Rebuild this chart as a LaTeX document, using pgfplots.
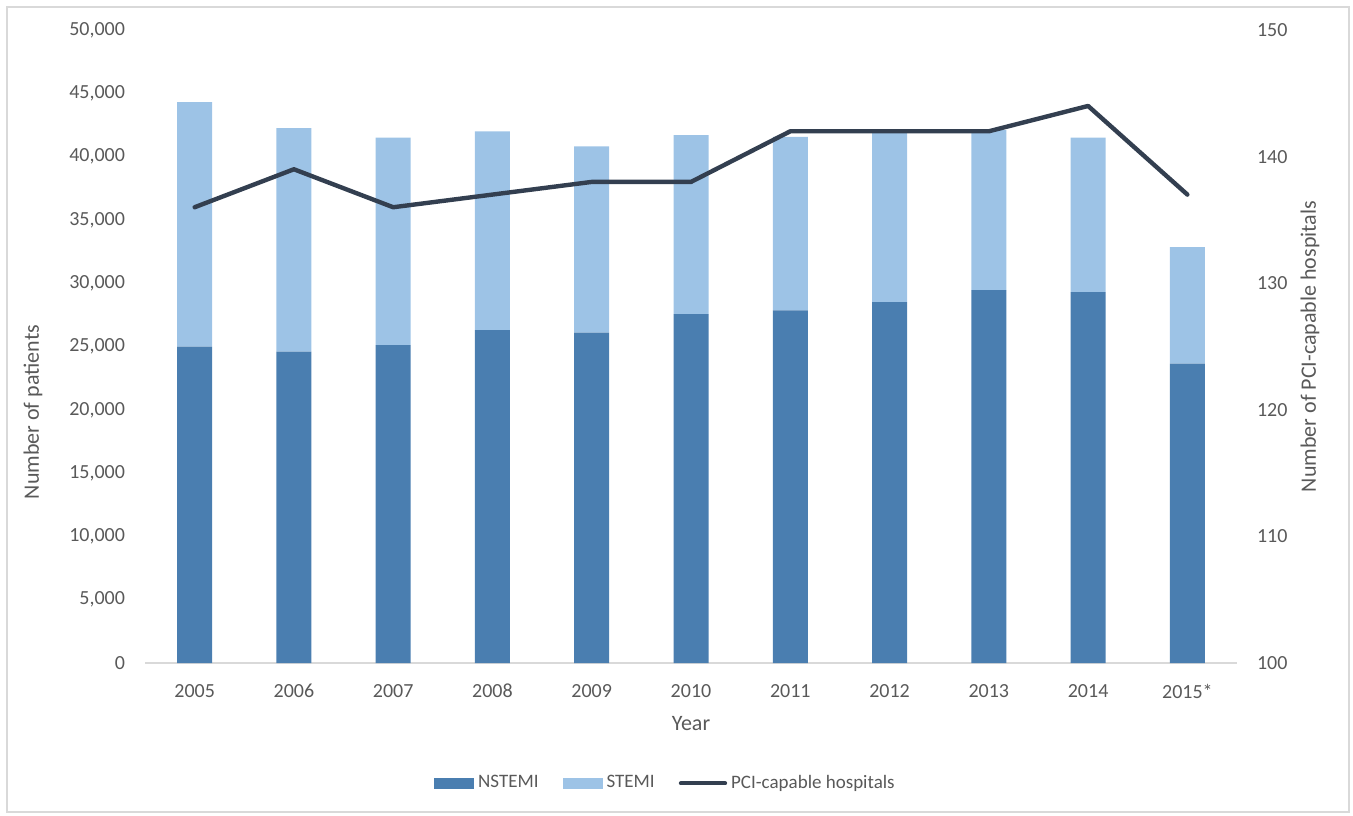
\documentclass[border=0pt]{standalone}
\usepackage{fontspec}
\setmainfont{Carlito}
\usepackage{pgfplots}
\pgfplotsset{compat=1.18}
\definecolor{nstemi}{HTML}{4A7EB0}
\definecolor{stemi}{HTML}{9DC3E6}
\definecolor{pciline}{HTML}{333F50}
\definecolor{txt}{HTML}{595959}
\definecolor{axisgray}{HTML}{D9D9D9}

\begin{document}
\begin{tikzpicture}
\path[use as bounding box] (0,0) rectangle (676.5pt,407.5pt);
\draw[axisgray, line width=0.8pt] (3.5pt,1.5pt) rectangle (674.5pt,404pt);
\pgfplotsset{
  common/.style={
    scale only axis, width=546pt, height=316.5pt,
    at={(72.5pt,76pt)}, anchor=south west,
    xmin=-0.5, xmax=10.5,
    axis line style={draw=none},
    major tick length=0pt,
    tick label style={font=\fontsize{10}{12}\selectfont, text=txt},
    /pgf/number format/assume math mode=true,
    /pgf/number format/1000 sep={,},
    scaled y ticks=false,
  }
}
\begin{axis}[common,
    ybar stacked, bar width=17.5pt,
    ymin=0, ymax=50000,
    ytick={0,5000,...,50000},
    xtick={0,...,10},
    xticklabels={2005,2006,2007,2008,2009,2010,2011,2012,2013,2014,2015*},
    yticklabel style={xshift=-6.5pt},
    xticklabel style={yshift=-7pt},
    xlabel={Year},
    ylabel={Number of patients},
    every axis x label/.style={at={(axis description cs:0.5,-0.095)}, anchor=center,
      font=\fontsize{11}{13}\selectfont, text=txt},
    every axis y label/.style={at={(axis description cs:-0.1026,0.3965)}, rotate=90, anchor=center,
      font=\fontsize{11}{13}\selectfont, text=txt},
    legend columns=3,
    legend style={at={(0.4775,-0.19)}, anchor=center, draw=none, fill=none,
      font=\fontsize{9.5}{11}\selectfont, text=txt,
      /tikz/every odd column/.append style={column sep=0pt},
      /tikz/every even column/.append style={column sep=10pt},
      nodes={inner sep=2pt}},
]
\addplot[fill=nstemi, draw=none,
  legend image code/.code={\fill[nstemi] (0pt,-2.75pt) rectangle (20pt,2.75pt);}]
  coordinates {(0,25000)(1,24600)(2,25100)(3,26300)(4,26100)(5,27550)
               (6,27850)(7,28500)(8,29450)(9,29300)(10,23650)};
\addlegendentry{NSTEMI}
\addplot[fill=stemi, draw=none,
  legend image code/.code={\fill[stemi] (0pt,-2.75pt) rectangle (20pt,2.75pt);}]
  coordinates {(0,19300)(1,17650)(2,16400)(3,15700)(4,14700)(5,14150)
               (6,13700)(7,13450)(8,12650)(9,12200)(10,9200)};
\addlegendentry{STEMI}
\addlegendimage{legend image code/.code={\draw[pciline, line width=2.2pt, line cap=round] (0pt,0pt) -- (22pt,0pt);}}
\addlegendentry{PCI-capable hospitals}
\draw[axisgray, line width=1pt] (rel axis cs:0,0) -- (rel axis cs:1,0);
\end{axis}
\begin{axis}[common,
    ymin=100, ymax=150,
    ytick={100,110,...,150},
    xtick=\empty,
    yticklabel pos=right,
    yticklabel style={xshift=6.5pt},
    ylabel={Number of PCI-capable hospitals},
    every axis y label/.style={at={(axis description cs:1.0668,0.5)}, rotate=90, anchor=center,
      font=\fontsize{11}{13}\selectfont, text=txt},
]
\addplot[pciline, line width=2.2pt, line join=round, line cap=round]
  coordinates {(0,136)(1,139)(2,136)(3,137)(4,138)(5,138)
               (6,142)(7,142)(8,142)(9,144)(10,137)};
\end{axis}
\end{tikzpicture}
\end{document}
